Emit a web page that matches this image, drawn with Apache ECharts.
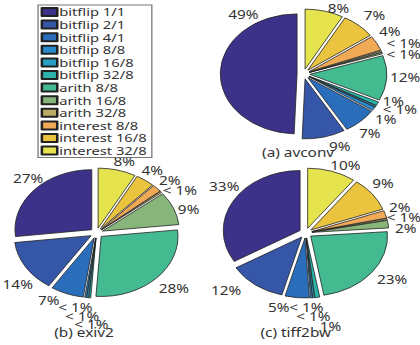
<!DOCTYPE html>
<html><head><meta charset="utf-8">
<script src="https://cdn.jsdelivr.net/npm/echarts@6/dist/echarts.min.js"></script>
<style>
html,body{margin:0;padding:0;background:#fff;overflow:hidden}
#wrap{width:420px;height:345px;overflow:hidden;position:relative}
#chart{width:328px;height:345px;transform:scaleX(1.2805);transform-origin:0 0}
</style></head><body><div id="wrap"><div id="chart"></div></div>
<script>
// ---- data ----
const categories = ['bitflip 1/1','bitflip 2/1','bitflip 4/1','bitflip 8/8','bitflip 16/8','bitflip 32/8','arith 8/8','arith 16/8','arith 32/8','interest 8/8','interest 16/8','interest 32/8'];
const avconvValues  = [49, 9, 7, 1, 0.4, 1, 12, 0.4, 0.4, 4, 7, 8];
const exiv2Values   = [27, 14, 7, 0.4, 0.4, 0.4, 28, 9, 0.4, 2, 4, 8];
const tiff2bwValues = [33, 12, 5, 0.4, 0.4, 1, 23, 2, 0.4, 2, 9, 10];
const pieTitles = ['(a) avconv', '(b) exiv2', '(c) tiff2bw'];

// ---- style / layout ----
const palette = ['#3d3289','#3656a8','#2a6ebb','#2b8acc','#2aa0c4','#2ab3a8','#44ba90','#88b57a','#b9ad66','#f0a955','#eac43e','#e6e44e'];
const FONT = 'Noto Sans';
const TXT = '#333';
const allValues = [avconvValues, exiv2Values, tiff2bwValues];
const centers = [[237, 74], [75.4, 233], [238.7, 233]];
const titlePos = [[232.8, 146], [65.6, 326], [231, 326]];
const R = 60, EXPLODE = 5, LABEL_R0 = 70, LABEL_R1 = 78;
const LABEL_RX = 78, LABEL_RY = 70;
// hand placement of the percentage labels (as in the original figure), px offsets
const labelNudge = [
  [[34,-58.3],[8.6,1],[-3.7,6],[-4.2,6.6],[5,-1],[-2,-6],[-1.5,-1],[1.5,4],[2.3,-5],[-4,-8],[1.5,-4],[7,4.5]],
  [[7,-6],[7.4,13],[-8.6,-1],[-5.9,1.5],[-2.7,10.5],[2.5,18],[2,5],[-3,4],[2.3,3],[-1.6,-3],[-3.9,-4],[1.6,-1]],
  [[6.9,-10.5],[-13.4,-1],[-12.8,1.4],[-5.2,1],[-1.7,11],[8,21],[3.6,1],[-2,5.6],[-2.5,0],[-4.1,-5],[-4.5,-6],[5.5,1.5]]
];

function pctLabel(v){ return v < 1 ? '< 1%' : Math.round(v) + '%'; }

function bisectorRad(vals, j){
  const total = vals.reduce((a,b)=>a+b,0);
  let cum = 0;
  for (let k=0;k<j;k++) cum += vals[k];
  return (90 + (cum + vals[j]/2)/total*360) * Math.PI/180;
}

function makeLabelLayout(s){
  return function(params){
    const j = params.dataIndex;
    const a = bisectorRad(allValues[s], j);
    const D = (LABEL_R0 + LABEL_R1)/2;
    const n = labelNudge[s][j];
    return {
      dx: (LABEL_RX - D)*Math.cos(a) + n[0],
      dy: -(LABEL_RY - D)*Math.sin(a) + n[1]
    };
  };
}

const pieSeries = allValues.map((vals, i) => ({
  type: 'pie',
  center: centers[i],
  radius: R,
  startAngle: 90,
  clockwise: false,
  selectedMode: 'multiple',
  selectedOffset: EXPLODE,
  label: {show: false},
  labelLine: {show: false},
  itemStyle: {borderColor: '#222', borderWidth: 0.7},
  select: {itemStyle: {borderColor: '#222', borderWidth: 0.7}},
  emphasis: {disabled: true},
  data: categories.map((n, j) => ({name: n, value: vals[j], selected: true}))
}));

// invisible ring carrying the percentage labels at the slice bisectors
const labelSeries = allValues.map((vals, i) => ({
  type: 'pie',
  center: centers[i],
  radius: [LABEL_R0, LABEL_R1],
  startAngle: 90,
  clockwise: false,
  silent: true,
  avoidLabelOverlap: false,
  minShowLabelAngle: 0,
  label: {show: true, position: 'inside', formatter: p => pctLabel(p.value), fontSize: 12, color: TXT, fontFamily: FONT},
  labelLine: {show: false},
  labelLayout: makeLabelLayout(i),
  itemStyle: {color: 'rgba(0,0,0,0)', borderWidth: 0},
  emphasis: {disabled: true},
  data: categories.map((n, j) => ({name: n, value: vals[j]}))
}));

const chart = echarts.init(document.getElementById('chart'), null, {renderer: 'svg'});
chart.setOption({
  animation: false,
  color: palette,
  title: pieTitles.map((t, i) => ({
    text: t, left: titlePos[i][0], top: titlePos[i][1], textAlign: 'center', padding: 0,
    textStyle: {fontSize: 12, fontWeight: 'normal', color: TXT, fontFamily: FONT}
  })),
  legend: {
    orient: 'vertical', left: 29.7, top: 5,
    icon: 'rect', itemWidth: 12, itemHeight: 8, itemGap: 0.6,
    padding: [1, 4, 1, 2],
    borderColor: '#777', borderWidth: 1, backgroundColor: '#fff',
    selectedMode: false,
    textStyle: {fontSize: 11.5, lineHeight: 11, padding: [0, 0, 0, -3.5], color: TXT, fontFamily: FONT},
    data: categories
  },
  series: pieSeries.concat(labelSeries)
});
</script></body></html>
